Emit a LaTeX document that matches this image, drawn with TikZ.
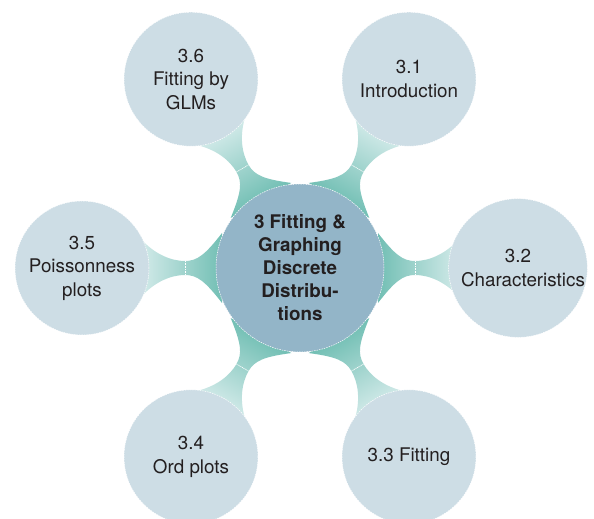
\documentclass[tikz,border=0pt]{standalone}
\usepackage{fontspec}
\setmainfont{TeX Gyre Heros}
\usetikzlibrary{backgrounds}
\definecolor{outerfill}{HTML}{CDDDE5}
\definecolor{centerfill}{HTML}{93B5C8}
\definecolor{neckdark}{HTML}{72BFB4}
\definecolor{necklight}{HTML}{D4EBEA}
\definecolor{txt}{HTML}{231F20}
\begin{document}
\begin{tikzpicture}[x=1pt,y=1pt,
  bubble/.style={circle, fill=outerfill, draw=white, line width=0.5pt,
    dash pattern=on 1.5pt off 1pt, minimum size=134pt, inner sep=0pt,
    align=center, font=\fontsize{18.8}{23.5}\selectfont, text=txt},
  hub/.style={bubble, fill=centerfill, minimum size=168pt,
    font=\fontsize{18.8}{23}\selectfont\bfseries},
  neck/.style={left color=neckdark, right color=necklight, draw=none},
  neckline/.style={draw=white, line width=0.6pt, dash pattern=on 1pt off 0.6pt}]
\useasboundingbox (0,0) rectangle (594,519);
\node[hub] (c) at (300,251) {3 Fitting \&\\Graphing\\Discrete\\Distribu-\\tions};
\node[bubble] (s1) at (409,439.8) {3.1\\Introduction};
\node[bubble] (s2) at (518,251) {3.2\\\hspace*{10pt}Characteristics};
\node[bubble] (s3) at (409,62.2) {3.3 Fitting};
\node[bubble] (s4) at (191,62.2) {3.4\\Ord plots};
\node[bubble] (s5) at (82,251) {3.5\\Poissonness\\plots};
\node[bubble] (s6) at (191,439.8) {3.6\\Fitting by\\GLMs};
\begin{pgfonlayer}{background}
\foreach \a/\t in {60/s1, 0/s2, -60/s3, -120/s4, 180/s5, 120/s6} {
  \begin{scope}[transform canvas={shift={(c.center)}, rotate=\a}]
    \shade[neck] (78,-35) -- (78,35)
      .. controls (95,13) and (103,7) .. (115,7)
      .. controls (128,7) and (145,13) .. (160,30)
      -- (160,-30)
      .. controls (145,-13) and (128,-7) .. (115,-7)
      .. controls (103,-7) and (95,-13) .. (78,-35) -- cycle;
    \draw[neckline] (115,-7) -- (115,7);
  \end{scope}
}
\end{pgfonlayer}
\end{tikzpicture}
\end{document}
